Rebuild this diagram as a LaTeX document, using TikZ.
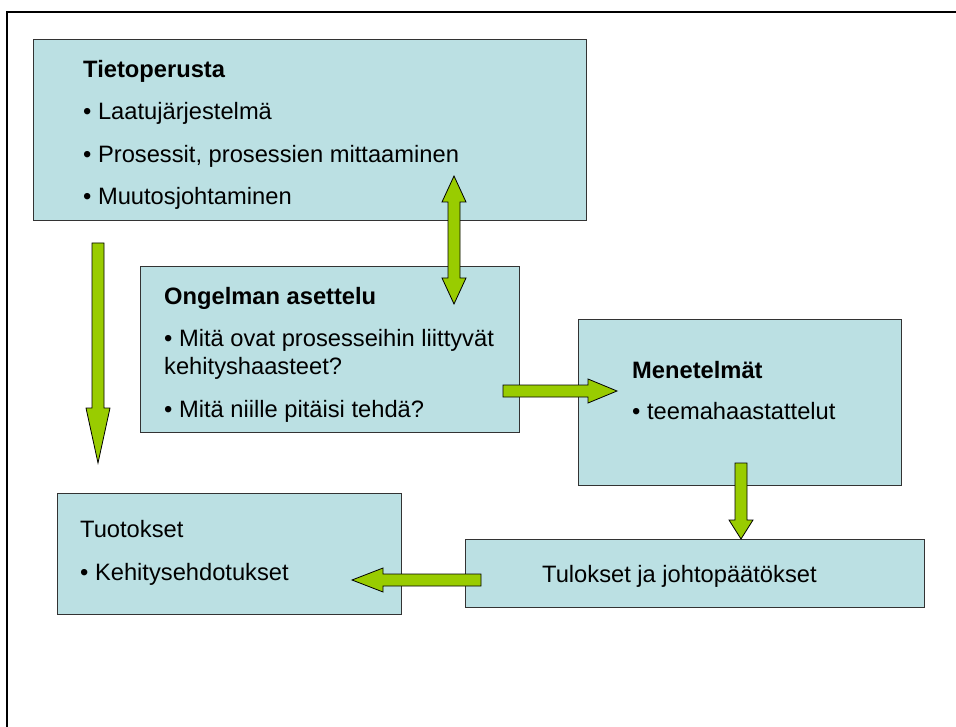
\documentclass[tikz,border=0pt]{standalone}
\usepackage{fontspec}
\setmainfont{Liberation Sans}
\usetikzlibrary{calc}

\definecolor{boxfill}{HTML}{BBE0E3}
\definecolor{arrowgreen}{HTML}{99CC00}

\newlength\shafthw \setlength\shafthw{6pt}
\newlength\headhw  \setlength\headhw{12pt}

% block arrow from #1 to tip #2, head length #3
\newcommand\fatarrow[3]{%
  \coordinate (#1-hb) at ($(#2)!#3!(#1)$);
  \filldraw[arrowbody]
    ($(#1)!\shafthw!90:(#2)$) --
    ($(#1-hb)!\shafthw!90:(#2)$) --
    ($(#1-hb)!\headhw!90:(#2)$) --
    (#2) --
    ($(#1-hb)!\headhw!-90:(#2)$) --
    ($(#1-hb)!\shafthw!-90:(#2)$) --
    ($(#1)!\shafthw!-90:(#2)$) -- cycle;
}
% block arrow with heads at both tips #1 and #2, head length #3
\newcommand\fatdoublearrow[3]{%
  \coordinate (#1-hb) at ($(#1)!#3!(#2)$);
  \coordinate (#2-hb) at ($(#2)!#3!(#1)$);
  \filldraw[arrowbody]
    (#1) --
    ($(#1-hb)!\headhw!90:(#1)$) --
    ($(#1-hb)!\shafthw!90:(#1)$) --
    ($(#2-hb)!\shafthw!90:(#1)$) --
    ($(#2-hb)!\headhw!90:(#1)$) --
    (#2) --
    ($(#2-hb)!\headhw!-90:(#1)$) --
    ($(#2-hb)!\shafthw!-90:(#1)$) --
    ($(#1-hb)!\shafthw!-90:(#1)$) --
    ($(#1-hb)!\headhw!-90:(#1)$) -- cycle;
}

\begin{document}
\begin{tikzpicture}[x=1pt, y=-1pt,
  box/.style={draw=black!80, line width=0.9pt, fill=boxfill,
    anchor=north west, inner sep=0pt},
  txt/.style={anchor=base west, inner sep=0pt,
    font=\fontsize{23.7}{28}\selectfont},
  head/.style={txt, font=\fontsize{23.7}{28}\selectfont\bfseries},
  arrowbody/.style={fill=arrowgreen, draw=black, line width=0.8pt,
    line join=miter}]

\useasboundingbox (0,0) rectangle (956,727);
\fill[white] (0,0) rectangle (956,727);

% page frame
\draw[line width=2.3pt] (956,12) -- (7,12) -- (7,727);

% boxes
\node[box, minimum width=553pt, minimum height=181pt] (tieto) at (33,39) {};
\node[box, minimum width=379pt, minimum height=166pt] (ongelma) at (140,266) {};
\node[box, minimum width=323pt, minimum height=166pt] (menet) at (578,319) {};
\node[box, minimum width=344pt, minimum height=121pt] (tuot) at (57,493) {};
\node[box, minimum width=459pt, minimum height=68pt] (tulos) at (465,539) {};

% texts
\node[head] (t1) at (83,78) {Tietoperusta};
\node[txt] (t2) at (83,120) {• Laatujärjestelmä};
\node[txt] (t3) at (83,163) {• Prosessit, prosessien mittaaminen};
\node[txt] (t4) at (83,205) {• Muutosjohtaminen};

\node[head] (o1) at (164,305) {Ongelman asettelu};
\node[txt] (o2) at (164,346) {• Mitä ovat prosesseihin liittyvät};
\node[txt] (o3) at (164,374) {kehityshaasteet?};
\node[txt] (o4) at (164,417) {• Mitä niille pitäisi tehdä?};

\node[head] (m1) at (632,378) {Menetelmät};
\node[txt] (m2) at (632,419) {• teemahaastattelut};

\node[txt] (u1) at (80,537) {Tuotokset};
\node[txt] (u2) at (80,580) {• Kehitysehdotukset};

\node[txt] (r1) at (542,582) {Tulokset ja johtopäätökset};

% arrow end points
\coordinate (a1s) at (98,243);   \coordinate (a1t) at (98,463);
\coordinate (a2t) at (454,176);  \coordinate (a2b) at (454,304);
\coordinate (a3s) at (503,391);  \coordinate (a3t) at (617,391);
\coordinate (a4s) at (741,463);  \coordinate (a4t) at (741,539);
\coordinate (a5s) at (481,580);  \coordinate (a5t) at (352,580);

% arrows
\fatarrow{a1s}{a1t}{55pt}
\fatdoublearrow{a2t}{a2b}{26pt}
\fatarrow{a3s}{a3t}{29pt}
\fatarrow{a4s}{a4t}{19pt}
\fatarrow{a5s}{a5t}{31pt}

\end{tikzpicture}
\end{document}
